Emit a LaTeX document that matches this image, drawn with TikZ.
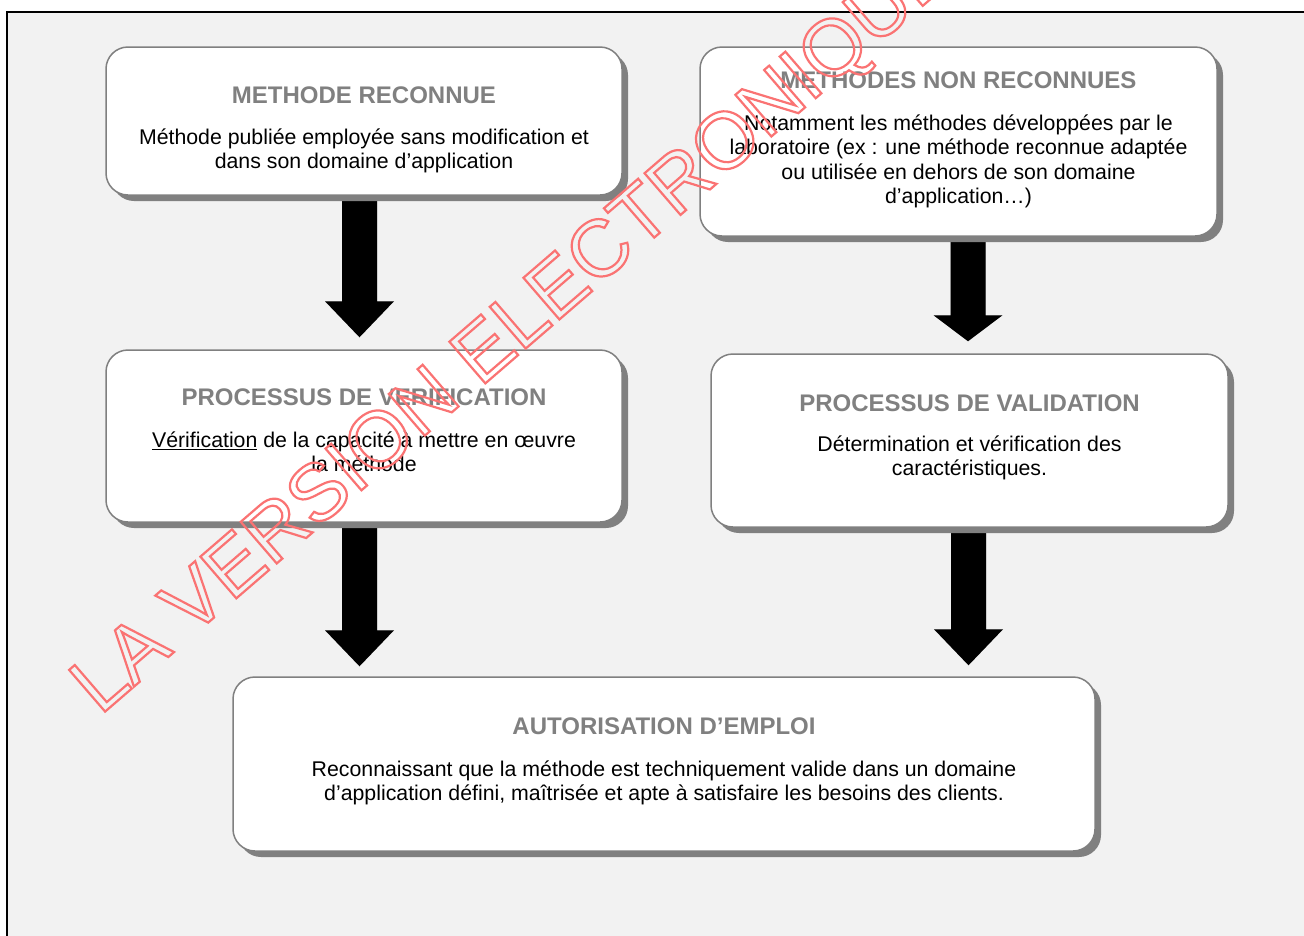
\documentclass[tikz,border=0pt]{standalone}
\usepackage{fontspec}
\setmainfont{Liberation Sans}
\usetikzlibrary{calc,shadows}
\definecolor{bggray}{HTML}{F2F2F2}
\definecolor{bordergray}{HTML}{808080}
\definecolor{titlegray}{HTML}{808080}
\definecolor{arrowshadow}{HTML}{BFBFBF}
\definecolor{wmred}{RGB}{250,115,115}
\pgfdeclarelayer{back}
\pgfdeclarelayer{mid}
\pgfdeclarelayer{front}
\pgfsetlayers{back,mid,main,front}
\tikzset{
  box/.style={draw=bordergray, line width=1.5pt, fill=white, rounded corners=22pt,
    inner sep=0pt,
    drop shadow={shadow xshift=6pt, shadow yshift=-6pt, fill=bordergray, opacity=1}},
  boxtitle/.style={anchor=base, inner sep=0pt, text=titlegray,
    font=\fontsize{24}{28}\selectfont\bfseries},
  boxbody/.style={anchor=north, inner sep=0pt, align=center,
    font=\fontsize{21.3}{24.3}\selectfont},
  frame/.style={draw=black, line width=1.5pt, fill=bggray},
}
\newcommand\arrowpath[3]{let \p1=(#1), \p2=(#2) in
  (\x1-17.5pt,\y1) -- (\x1-17.5pt,\y2+#3) -- (\x1-34.5pt,\y2+#3) -- (\x1,\y2)
  -- (\x1+34.5pt,\y2+#3) -- (\x1+17.5pt,\y2+#3) -- (\x1+17.5pt,\y1) -- cycle}
\newcommand\blockarrow[3]{%
  \fill[arrowshadow, xshift=4.5pt, yshift=-5.5pt] \arrowpath{#1}{#2}{#3};
  \fill[black] \arrowpath{#1}{#2}{#3};}
\begin{document}
\begin{tikzpicture}[x=1pt,y=-1pt]
\useasboundingbox (0,0) rectangle (1304,935);
\begin{pgfonlayer}{back}
  \begin{scope}
    \clip (0,0) rectangle (1304,935);
    \fill[white] (0,0) rectangle (1304,935);
    \draw[frame] (7,12) rectangle (1330,960);
  \end{scope}
\end{pgfonlayer}

% boxes
\node[box, minimum width=516pt, minimum height=148pt] (b1) at (364,121) {};
\node[box, minimum width=517pt, minimum height=189pt] (b2) at (958.5,141.5) {};
\node[box, minimum width=516pt, minimum height=172pt] (b3) at (364,436) {};
\node[box, minimum width=517pt, minimum height=173pt] (b4) at (969.5,440.5) {};
\node[box, minimum width=862pt, minimum height=174pt] (b5) at (664,764) {};

% texts
\node[boxtitle] (t1) at ($(b1.north)+(0,57)$) {METHODE RECONNUE};
\node[boxbody] (d1) at ($(t1.base)+(0,25.5)$) {Méthode publiée employée sans modification et\\dans son domaine d’application};

\node[boxtitle] (t2) at ($(b2.north)+(0,42)$) {METHODES NON RECONNUES};
\node[boxbody] (d2) at ($(t2.base)+(0,26.5)$) {Notamment les méthodes développées par le\\laboratoire (ex : une méthode reconnue adaptée\\ou utilisée en dehors de son domaine\\d’application…)};

\node[boxtitle] (t3) at ($(b3.north)+(0,56.5)$) {PROCESSUS DE VERIFICATION};
\node[boxbody] (d3) at ($(t3.base)+(0,26)$) {\underline{Vérification} de la capacité à mettre en œuvre\\la méthode};

\node[boxtitle] (t4) at ($(b4.north)+(0,58.5)$) {PROCESSUS DE VALIDATION};
\node[boxbody] (d4) at ($(t4.base)+(0,24)$) {Détermination et vérification des\\caractéristiques.};

\node[boxtitle] (t5) at ($(b5.north)+(0,58.5)$) {AUTORISATION D’EMPLOI};
\node[boxbody] (d5) at ($(t5.base)+(0,26)$) {Reconnaissant que la méthode est techniquement valide dans un domaine\\d’application défini, maîtrisée et apte à satisfaire les besoins des clients.};

% arrow end points
\coordinate (a1s) at ($(b1.south)+(-4.5,0)$);
\coordinate (a1t) at ($(b3.north)+(-4.5,-12)$);
\coordinate (a2s) at ($(b2.south)+(9.5,0)$);
\coordinate (a2t) at ($(b4.north)+(-1.5,-12)$);
\coordinate (a3s) at ($(b3.south)+(-4.5,0)$);
\coordinate (a3t) at ($(b5.north)+(-304.5,-10)$);
\coordinate (a4s) at ($(b4.south)+(-1,0)$);
\coordinate (a4t) at ($(b5.north)+(304.5,-11)$);

\begin{pgfonlayer}{mid}
  \blockarrow{a1s}{a1t}{36pt}
  \blockarrow{a2s}{a2t}{26pt}
  \blockarrow{a3s}{a3t}{36pt}
  \blockarrow{a4s}{a4t}{36pt}
\end{pgfonlayer}

\begin{pgfonlayer}{front}
  \begin{scope}
    \clip (0,0) rectangle (1304,935);
    \node[anchor=base west, inner sep=0pt, rotate=40.8, text=wmred,
      font=\fontsize{80}{90}\selectfont] (wm) at (100,716)
      {\special{pdf:literal direct 1 Tr 2.2 w}LA VERSION ELECTRONIQUE\special{pdf:literal direct 0 Tr}};
  \end{scope}
\end{pgfonlayer}
\end{tikzpicture}
\end{document}
